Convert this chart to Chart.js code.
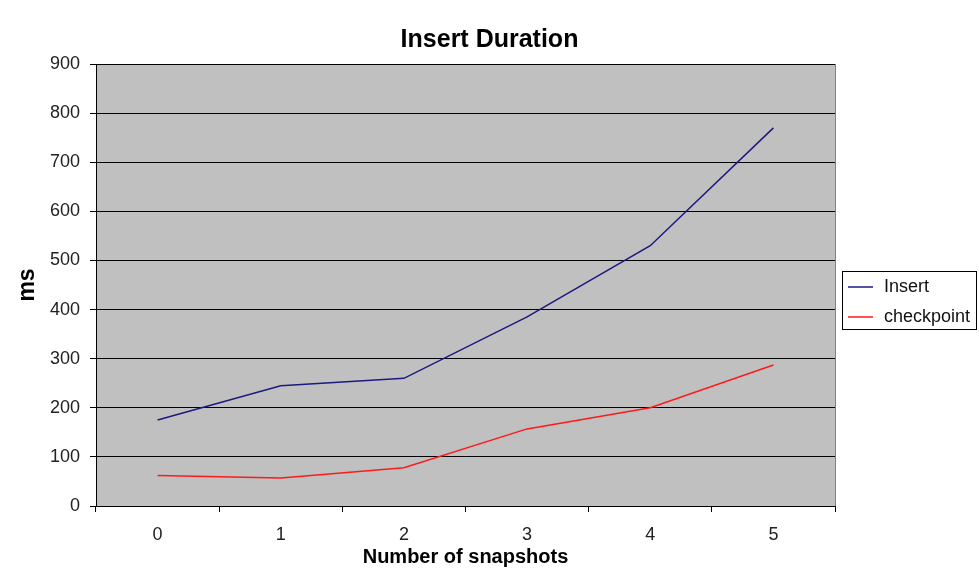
<!DOCTYPE html>
<html>
<head>
<meta charset="utf-8">
<title>Insert Duration</title>
<script src="https://cdn.jsdelivr.net/npm/chart.js@4/dist/chart.umd.min.js"></script>
<style>
  html, body { margin: 0; padding: 0; background: #ffffff; }
  #wrap { width: 979px; height: 576px; position: relative; }
</style>
</head>
<body>
<div id="wrap"><canvas id="chart" width="979" height="576"></canvas></div>
<script>
// Snapshot counts on the x axis
const snapshots = ['0', '1', '2', '3', '4', '5'];
// Durations in ms
const insertMs = [175, 245, 260, 385, 530, 770];
const checkpointMs = [62, 57, 78, 157, 200, 287];
// Y axis range
const yMin = 0;
const yMax = 900;
const yStep = 100;

// Grey plot background plus the right-hand frame line
const plotBackground = {
  id: 'plotBackground',
  beforeDraw(chart) {
    const { ctx, chartArea: a } = chart;
    ctx.save();
    ctx.fillStyle = '#C0C0C0';
    ctx.fillRect(a.left, a.top, a.right - a.left, a.bottom - a.top);
    ctx.restore();
  },
  afterDatasetsDraw(chart) {
    const { ctx, chartArea: a } = chart;
    ctx.save();
    ctx.strokeStyle = '#808080';
    ctx.lineWidth = 1;
    ctx.beginPath();
    ctx.moveTo(Math.round(a.right) + 0.5, a.top);
    ctx.lineTo(Math.round(a.right) + 0.5, a.bottom);
    ctx.stroke();
    ctx.restore();
  }
};

// Boxed legend to the right of the plot
const boxedLegend = {
  id: 'boxedLegend',
  afterDraw(chart) {
    const { ctx } = chart;
    const box = { x: 842.5, y: 271.5, w: 134, h: 58 };
    ctx.save();
    ctx.fillStyle = '#ffffff';
    ctx.fillRect(box.x, box.y, box.w, box.h);
    ctx.strokeStyle = '#000000';
    ctx.lineWidth = 1;
    ctx.strokeRect(box.x, box.y, box.w, box.h);
    ctx.font = '18px Arial, "Liberation Sans", sans-serif';
    ctx.textBaseline = 'middle';
    ctx.textAlign = 'left';
    chart.data.datasets.forEach((ds, i) => {
      const cy = 287 + i * 30;
      ctx.strokeStyle = ds.borderColor;
      ctx.lineWidth = 1.5;
      ctx.beginPath();
      ctx.moveTo(848, cy);
      ctx.lineTo(873, cy);
      ctx.stroke();
      ctx.fillStyle = '#111111';
      ctx.fillText(ds.label, 884, cy);
    });
    ctx.restore();
  }
};

new Chart(document.getElementById('chart'), {
  type: 'line',
  data: {
    labels: snapshots,
    datasets: [
      {
        label: 'Insert',
        data: insertMs,
        borderColor: '#1a1a80',
        borderWidth: 1.5,
        pointRadius: 0,
        tension: 0,
        fill: false
      },
      {
        label: 'checkpoint',
        data: checkpointMs,
        borderColor: '#ff1a1a',
        borderWidth: 1.5,
        pointRadius: 0,
        tension: 0,
        fill: false
      }
    ]
  },
  options: {
    responsive: false,
    animation: false,
    devicePixelRatio: 1,
    layout: { padding: 0 },
    plugins: {
      legend: { display: false },
      tooltip: { enabled: false },
      title: {
        display: true,
        text: 'Insert Duration',
        color: '#000000',
        font: { family: 'Arial, "Liberation Sans", sans-serif', size: 25, weight: 'bold', lineHeight: 1.2 },
        padding: { top: 25, bottom: 9 }
      }
    },
    scales: {
      x: {
        type: 'category',
        offset: true,
        afterFit(scale) { scale.height = 70; },
        grid: {
          offset: true,
          drawOnChartArea: false,
          drawTicks: true,
          tickLength: 6,
          color: '#000000',
          lineWidth: 1
        },
        border: { display: true, color: '#000000', width: 1 },
        ticks: {
          color: '#222222',
          padding: 12,
          font: { family: 'Arial, "Liberation Sans", sans-serif', size: 18 }
        },
        title: {
          display: true,
          text: 'Number of snapshots',
          color: '#000000',
          font: { family: 'Arial, "Liberation Sans", sans-serif', size: 20, weight: 'bold', lineHeight: 1.2 },
          padding: { top: 0, bottom: 7 }
        }
      },
      y: {
        min: yMin,
        max: yMax,
        afterFit(scale) { scale.width = 96; },
        grid: {
          color: '#000000',
          lineWidth: 1,
          drawTicks: true,
          tickLength: 6
        },
        border: { display: true, color: '#000000', width: 1 },
        ticks: {
          stepSize: yStep,
          color: '#222222',
          padding: 10,
          font: { family: 'Arial, "Liberation Sans", sans-serif', size: 18 }
        },
        title: {
          display: true,
          text: 'ms',
          color: '#000000',
          font: { family: 'Arial, "Liberation Sans", sans-serif', size: 23, weight: 'bold', lineHeight: 1.2 },
          padding: { top: 14, bottom: 0 }
        }
      },
      // Empty right-hand axis that reserves room for the legend box
      legendSpace: {
        type: 'linear',
        position: 'right',
        display: true,
        afterFit(scale) { scale.width = 144; },
        grid: { display: false, drawTicks: false },
        border: { display: false },
        ticks: { display: false }
      }
    }
  },
  plugins: [plotBackground, boxedLegend]
});
</script>
</body>
</html>
